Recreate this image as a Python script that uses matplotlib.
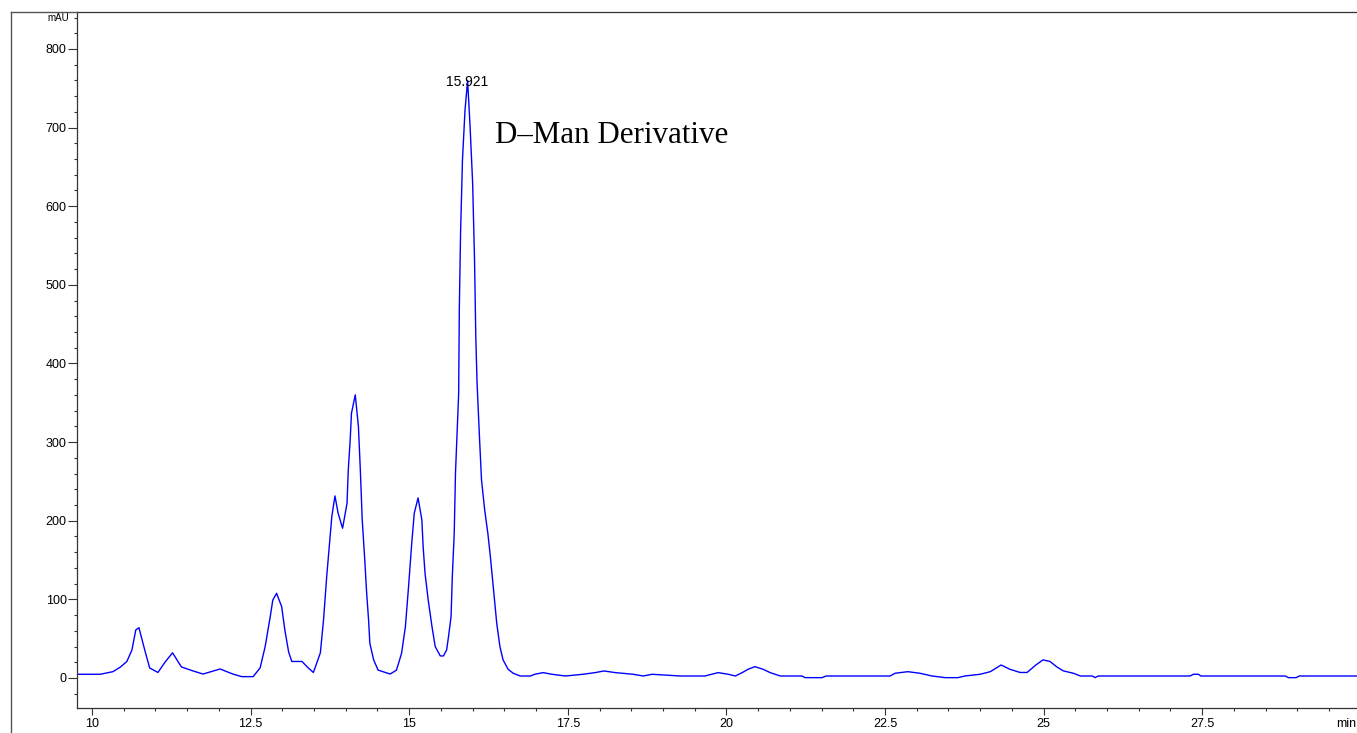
import numpy as np
import matplotlib
matplotlib.use('Agg')
import matplotlib.pyplot as plt
from matplotlib.lines import Line2D
from matplotlib.ticker import MultipleLocator

# retention time (min) and signal (mAU)
time = [9.76, 10.13, 10.33, 10.45, 10.55, 10.63, 10.69, 10.74, 10.84, 10.91,
        11.04, 11.15, 11.27, 11.41, 11.59, 11.75, 12.02, 12.22, 12.36, 12.54,
        12.65, 12.73, 12.81, 12.85, 12.91, 12.99, 13.04, 13.10, 13.15, 13.31,
        13.41, 13.49, 13.60, 13.65, 13.70, 13.75, 13.78, 13.83, 13.88, 13.95,
        14.02, 14.04, 14.07, 14.09, 14.15, 14.20, 14.23, 14.26, 14.30, 14.33,
        14.36, 14.38, 14.44, 14.51, 14.70, 14.80, 14.88, 14.94, 14.99, 15.04,
        15.08, 15.14, 15.20, 15.22, 15.25, 15.30, 15.36, 15.41, 15.49, 15.54,
        15.59, 15.62, 15.66, 15.68, 15.71, 15.73, 15.78, 15.79, 15.81, 15.84,
        15.88, 15.921, 15.96, 16.00, 16.03, 16.05, 16.07, 16.11, 16.14, 16.19,
        16.24, 16.28, 16.33, 16.38, 16.43, 16.48, 16.56, 16.64, 16.75, 16.91,
        16.98, 17.11, 17.25, 17.46, 17.74, 17.93, 18.07, 18.25, 18.53, 18.69,
        18.83, 19.27, 19.66, 19.77, 19.87, 20.03, 20.14, 20.25, 20.34, 20.45,
        20.58, 20.69, 20.85, 21.19, 21.24, 21.51, 21.57, 22.58, 22.66, 22.86,
        23.05, 23.24, 23.45, 23.65, 23.76, 24.00, 24.16, 24.33, 24.47, 24.63,
        24.74, 24.87, 24.99, 25.10, 25.21, 25.31, 25.47, 25.58, 25.77, 25.81,
        25.86, 27.31, 27.36, 27.44, 27.48, 28.81, 28.86, 28.98, 29.03, 29.94]
signal = [4.7, 4.7, 8, 14, 21, 35.6, 61, 64, 33, 12.7,
          7, 20, 32, 14, 9, 5, 11.4, 5, 1.7, 1.7,
          12.7, 40, 78, 99, 107.7, 90.7, 61, 33, 21, 21,
          12.7, 7, 32, 74, 129, 175.5, 205, 231.5, 209.5, 190.4,
          222, 264.5, 302.7, 336.6, 360, 319.6, 264.5, 201, 150, 107.7,
          73.8, 44, 23, 10, 5, 10, 31.4, 65, 116, 171,
          209.5, 229, 201, 167, 133, 99, 65, 40, 28, 28,
          35.6, 52.5, 78, 129, 184, 261, 362, 468, 566, 659,
          722, 760, 701, 630, 532, 434, 375, 302.7, 252, 213.7,
          184, 154, 112, 69.6, 40, 23, 11, 6, 2.5, 2.5,
          4.7, 6.8, 4.7, 2.5, 4.7, 6.8, 8.9, 6.8, 4.7, 2.5,
          4.7, 2.5, 2.5, 4.7, 6.8, 4.7, 2.5, 6.8, 11, 14.4,
          11, 6.8, 2.5, 2.5, 0.4, 0.4, 2.5, 2.5, 6, 8,
          6, 2.5, 0.4, 0.4, 2.5, 4.7, 8, 16.5, 11, 7,
          7, 16, 23, 21, 14, 9, 6, 2.5, 2.5, 0.4,
          2.5, 2.5, 4.7, 4.7, 2.5, 2.5, 0.4, 0.4, 2.5, 2.5]

peak_rt = 15.921
peak_label = '15.921'
annotation = 'D\u2013Man Derivative'
y_ticks = [0, 100, 200, 300, 400, 500, 600, 700, 800]
x_ticks = [10, 12.5, 15, 17.5, 20, 22.5, 25, 27.5]
x_ticklabels = ['10', '12.5', '15', '17.5', '20', '22.5', '25', '27.5']

W, H = 1357, 733
fig = plt.figure(figsize=(W / 100, H / 100), dpi=100)
ax = fig.add_axes([77 / W, 1 - 708 / H, (W - 77) / W, (708 - 12) / H])

ax.plot(time, signal, color='#0000ff', lw=1.0)

ax.set_xlim(9.764, 29.94)
ax.set_ylim(-38.2, 847)

sans = 'Liberation Sans'
ax.set_xticks(x_ticks)
ax.set_xticklabels(x_ticklabels, fontsize=9, family=sans)
ax.set_yticks(y_ticks)
ax.set_yticklabels([str(v) for v in y_ticks], fontsize=9, family=sans)
ax.xaxis.set_minor_locator(MultipleLocator(0.5))
ax.yaxis.set_minor_locator(MultipleLocator(20))
ax.tick_params(axis='y', which='major', length=6.5, width=0.8, pad=1, color='#333333')
ax.tick_params(axis='y', which='minor', length=2.5, width=0.8, color='#333333')
ax.tick_params(axis='x', which='major', length=5, width=0.8, pad=2, color='#333333')
ax.tick_params(axis='x', which='minor', length=2.5, width=0.8, color='#333333')

for s in ['left', 'bottom', 'top']:
    ax.spines[s].set_color('#333333')
    ax.spines[s].set_linewidth(0.9)
ax.spines['right'].set_visible(False)

# unit labels
ax.text(-0.006, 840, 'mAU', transform=ax.get_yaxis_transform(), ha='right',
        va='center', fontsize=7, family=sans)
fig.text(1336 / W, 1 - 724 / H, 'min', ha='left', va='center', fontsize=9, family=sans)

# peak annotation
ax.text(peak_rt, 753, peak_label, ha='center', va='baseline', fontsize=10, family=sans)
ax.text(16.353, 680.8, annotation, ha='left', va='baseline', fontsize=22.3,
        family='Liberation Serif')

# outer frame of the report page
fig.add_artist(Line2D([11 / W, 11 / W], [0, 1 - 12 / H], color='#555555', lw=1.0))
fig.add_artist(Line2D([11 / W, 77 / W], [1 - 12 / H, 1 - 12 / H], color='#555555', lw=1.0))

fig.savefig('out.png', dpi=100)
